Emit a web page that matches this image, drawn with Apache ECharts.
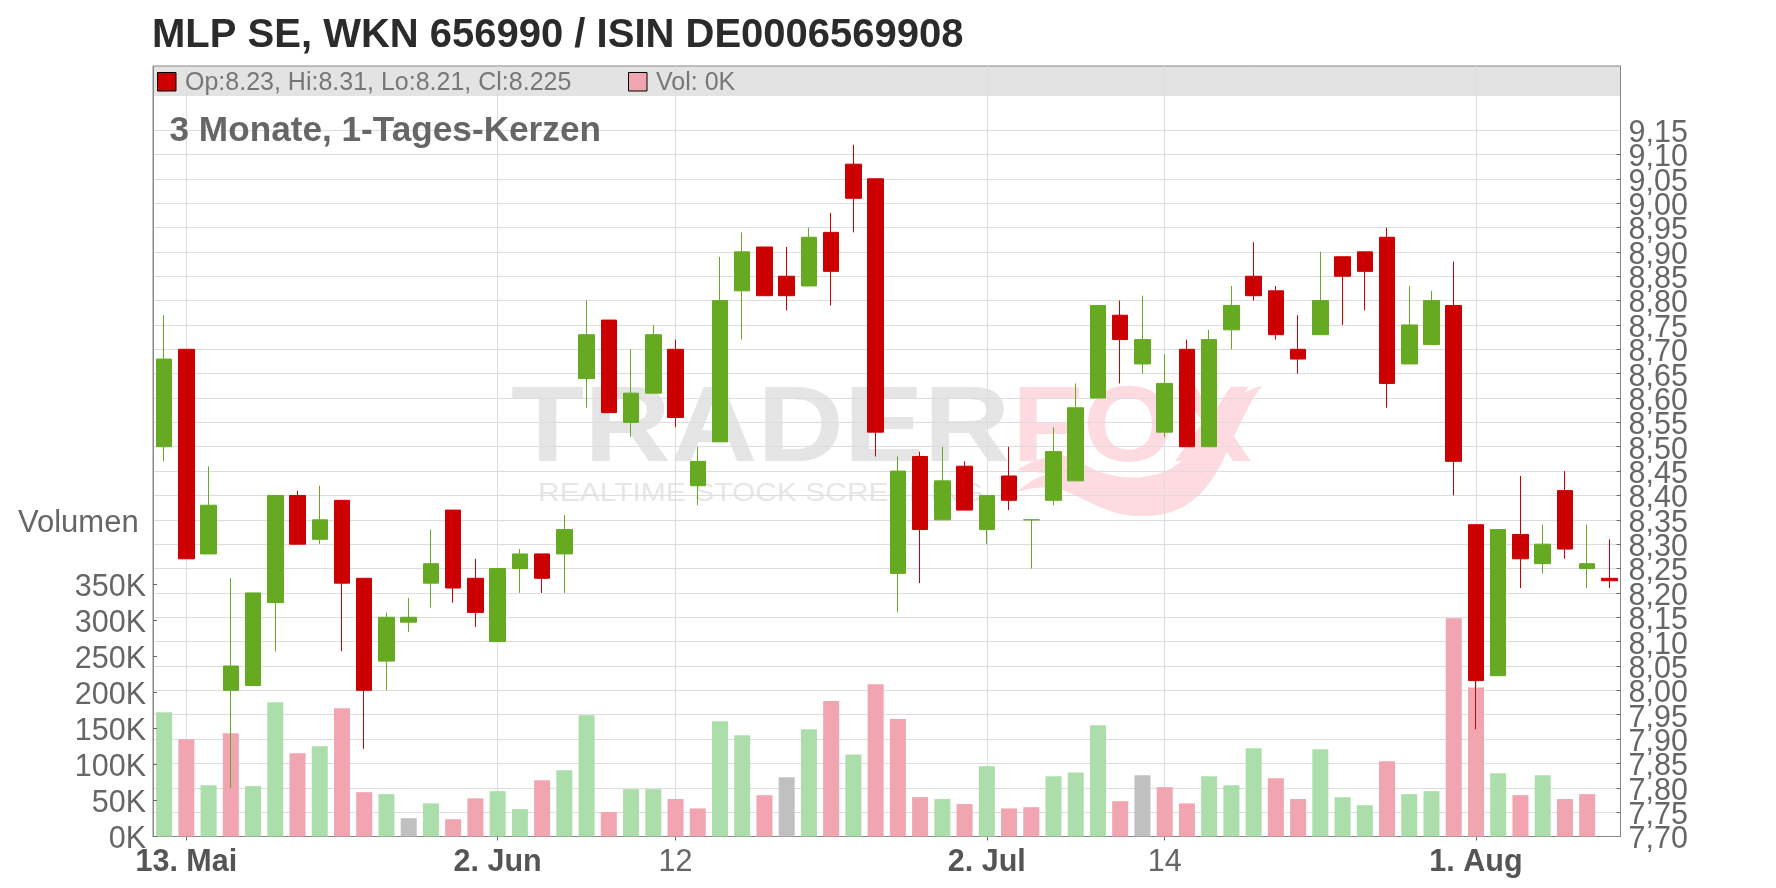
<!DOCTYPE html>
<html><head><meta charset="utf-8">
<style>html,body{margin:0;padding:0;background:#fff}#c{width:1776px;height:888px}</style>
<script src="https://cdn.jsdelivr.net/npm/echarts@6/dist/echarts.min.js"></script>
</head><body><div id="c"></div>
<script>
const categories = ['2025-05-12','2025-05-13','2025-05-14','2025-05-15','2025-05-16','2025-05-19','2025-05-20','2025-05-21','2025-05-22','2025-05-23','2025-05-26','2025-05-27','2025-05-28','2025-05-29','2025-05-30','2025-06-02','2025-06-03','2025-06-04','2025-06-05','2025-06-06','2025-06-09','2025-06-10','2025-06-11','2025-06-12','2025-06-13','2025-06-16','2025-06-17','2025-06-18','2025-06-19','2025-06-20','2025-06-23','2025-06-24','2025-06-25','2025-06-26','2025-06-27','2025-06-30','2025-07-01','2025-07-02','2025-07-03','2025-07-04','2025-07-07','2025-07-08','2025-07-09','2025-07-10','2025-07-11','2025-07-14','2025-07-15','2025-07-16','2025-07-17','2025-07-18','2025-07-21','2025-07-22','2025-07-23','2025-07-24','2025-07-25','2025-07-28','2025-07-29','2025-07-30','2025-07-31','2025-08-01','2025-08-04','2025-08-05','2025-08-06','2025-08-07','2025-08-08','2025-08-11'];
const opens  = [8.50,8.70,8.28,8.00,8.01,8.18,8.40,8.31,8.39,8.23,8.06,8.14,8.22,8.37,8.23,8.10,8.25,8.28,8.28,8.64,8.76,8.55,8.61,8.70,8.42,8.51,8.82,8.91,8.85,8.83,8.94,9.08,9.05,8.24,8.48,8.35,8.46,8.33,8.44,8.35,8.39,8.43,8.60,8.77,8.67,8.53,8.70,8.50,8.74,8.85,8.82,8.70,8.73,8.89,8.90,8.93,8.67,8.71,8.79,8.34,8.03,8.32,8.26,8.41,8.25,8.23];
const closes = [8.68,8.27,8.38,8.05,8.20,8.40,8.30,8.35,8.22,8.00,8.15,8.15,8.26,8.21,8.16,8.25,8.28,8.23,8.33,8.73,8.57,8.61,8.73,8.56,8.47,8.80,8.90,8.81,8.81,8.93,8.86,9.01,8.53,8.45,8.33,8.43,8.37,8.40,8.39,8.35,8.49,8.58,8.79,8.72,8.72,8.63,8.50,8.72,8.79,8.81,8.73,8.68,8.80,8.85,8.86,8.63,8.75,8.80,8.47,8.02,8.33,8.27,8.30,8.29,8.26,8.225];
const lows   = [8.47,8.27,8.28,7.80,8.01,8.08,8.30,8.30,8.08,7.88,8.00,8.12,8.17,8.18,8.13,8.10,8.20,8.20,8.20,8.58,8.57,8.52,8.61,8.54,8.38,8.51,8.72,8.81,8.78,8.83,8.79,8.94,8.48,8.16,8.22,8.35,8.37,8.30,8.37,8.25,8.38,8.43,8.60,8.63,8.65,8.52,8.50,8.50,8.70,8.80,8.72,8.65,8.73,8.75,8.78,8.58,8.67,8.71,8.40,7.92,8.03,8.21,8.24,8.27,8.21,8.21];
const highs  = [8.77,8.70,8.46,8.23,8.20,8.40,8.41,8.42,8.39,8.23,8.16,8.19,8.33,8.37,8.27,8.25,8.29,8.28,8.36,8.80,8.76,8.70,8.75,8.72,8.50,8.89,8.94,8.91,8.91,8.95,8.98,9.12,9.05,8.48,8.49,8.50,8.47,8.40,8.50,8.35,8.54,8.63,8.79,8.80,8.81,8.69,8.72,8.74,8.83,8.92,8.83,8.77,8.90,8.89,8.90,8.95,8.83,8.82,8.88,8.34,8.33,8.44,8.34,8.45,8.34,8.31];
const volumes = [172700,135000,71000,143500,70000,186600,115700,125500,178000,61600,58800,25500,46000,24000,53000,63000,38000,78000,92000,168500,34000,65700,65700,52000,39000,160000,140700,57400,82400,149000,188000,114000,211600,163000,54600,52000,45000,97700,39000,40700,83800,89000,154600,49000,85000,68500,46000,83800,71000,122700,81000,52000,121000,54600,43500,104600,58800,63000,303000,207000,88000,57400,85000,52000,58800,0];
const volumeKinds = ['u','d','u','d','u','u','d','u','d','d','u','n','u','d','d','u','u','d','u','u','d','u','u','d','d','u','u','d','n','u','d','u','d','d','d','u','d','u','d','d','u','u','u','d','n','d','d','u','u','u','d','d','u','u','u','d','u','u','d','d','u','d','u','d','d','d'];
const volumeTicks = [0,50000,100000,150000,200000,250000,300000,350000];
const priceTicks = [7.70,7.75,7.80,7.85,7.90,7.95,8.00,8.05,8.10,8.15,8.20,8.25,8.30,8.35,8.40,8.45,8.50,8.55,8.60,8.65,8.70,8.75,8.80,8.85,8.90,8.95,9.00,9.05,9.10,9.15];
const dateLabels = {'2025-05-13':'{b|13. Mai}','2025-06-02':'{b|2. Jun}','2025-06-12':'12','2025-07-02':'{b|2. Jul}','2025-07-14':'14','2025-08-01':'{b|1. Aug}'};
const dateTicks = Object.keys(dateLabels).map(d => categories.indexOf(d));
const candles = categories.map((_, i) => [opens[i], closes[i], lows[i], highs[i]]);
// first and last repeated: ECharts drops one end label on each side when neighbours overlap
const priceLabelValues = [priceTicks[0], ...priceTicks, priceTicks[priceTicks.length - 1]];

const FONT = '"Liberation Sans", Arial, sans-serif';
const RED = '#cc0000', GREEN = '#66aa22', GREY_TEXT = '#666666';
const VOL = {u:'#abdeaa', d:'#f0a5b0', n:'#c0c0c0'};
const TICK_STYLE = {color:'#666666', width:1};
const GRID_LINE = {show:true, lineStyle:{color:'#dddddd', width:1}};
const LOWERED = {a:{fontFamily:FONT, fontSize:30.5, color:GREY_TEXT, padding:[7,0,0,0]}};

echarts.graphic.registerShape('foxSwoosh', echarts.graphic.extendPath('M1017 470 C1035 458 1058 452 1075 458 C1100 478 1140 485 1172 468 C1200 450 1215 420 1231 403 C1240 395 1250 388 1262 386 C1250 400 1240 425 1230 445 C1215 480 1195 515 1147 516 C1110 518 1090 500 1062 490 C1045 485 1030 488 1017 492 C1030 480 1040 476 1050 474 C1040 472 1028 472 1017 470 Z'));

const chart = echarts.init(document.getElementById('c'), null, {renderer:'canvas'});
const txt = (x, y, text, size, color, weight, extra) => Object.assign({
  type:'text', x, y, z:10, silent:true,
  style:{text, fill:color, font:(weight||'normal')+' '+size+'px '+FONT, textVerticalAlign:'middle', textAlign:'left'}
}, extra||{});
chart.setOption({
  animation:false,
  backgroundColor:'#ffffff',
  title:{text:'MLP SE, WKN 656990 / ISIN DE0006569908', left:152, top:16, padding:0,
    textStyle:{fontFamily:FONT, fontWeight:'bold', fontSize:40, color:'#2b2b2b'}},
  grid:{left:153, right:155.5, top:66, bottom:51.5, show:true, borderColor:'#888888', borderWidth:1, containLabel:false},
  xAxis:{type:'category', data:categories, boundaryGap:true,
    axisLine:{show:true, lineStyle:{color:'#888888', width:1}},
    axisTick:{show:true, customValues:dateTicks, alignWithLabel:true, length:4, lineStyle:TICK_STYLE},
    splitLine:Object.assign({alignWithLabel:true}, GRID_LINE),
    axisLabel:{show:true, customValues:dateTicks, margin:11, fontFamily:FONT, fontSize:30.5, color:GREY_TEXT,
      formatter:(v)=>dateLabels[v]||'',
      rich:{b:{fontFamily:FONT, fontSize:30.5, fontWeight:'bold', color:'#555555'}}}},
  yAxis:[
    {type:'value', min:0, max:1070000, position:'left', z:3,
     axisLine:{show:true, lineStyle:{color:'#888888'}},
     axisTick:{show:true, inside:true, length:4, customValues:volumeTicks, lineStyle:TICK_STYLE},
     splitLine:{show:false},
     axisLabel:{show:true, customValues:volumeTicks, margin:7, rich:LOWERED, fontFamily:FONT, fontSize:30.5, color:GREY_TEXT, formatter:(v)=>'{a|'+Math.round(v/1000)+'K}'}},
    {type:'value', min:7.7, max:9.2815, position:'right',
     axisLine:{show:true, lineStyle:{color:'#888888'}},
     axisTick:{show:true, inside:true, length:4, customValues:priceTicks, lineStyle:TICK_STYLE},
     splitLine:GRID_LINE,
     axisLabel:{show:true, showMinLabel:false, showMaxLabel:false, customValues:priceLabelValues, margin:8, rich:LOWERED, fontFamily:FONT, fontSize:30.5, color:GREY_TEXT, formatter:(v)=>'{a|'+v.toFixed(2).replace('.',',')+'}'}}
  ],
  series:[
    {type:'bar', name:'Volumen', xAxisIndex:0, yAxisIndex:0, barWidth:16, z:2,
     data:volumes.map((v,i)=>({value:v, itemStyle:{color:VOL[volumeKinds[i]]}}))},
    {type:'candlestick', name:'Kurs', xAxisIndex:0, yAxisIndex:1, barWidth:16, z:3, data:candles,
     itemStyle:{color:GREEN, color0:RED, borderColor:GREEN, borderColor0:RED, borderColorDoji:GREEN, borderWidth:1}}
  ],
  graphic:[
    {type:'rect', z:-2, silent:true, shape:{x:153, y:66, width:1467.5, height:30}, style:{fill:'#e3e3e3'}},
    {type:'text', z:-1, silent:true, x:511, y:431.5, scaleX:1.12, style:{text:'TRADER', fill:'#e5e5e5', font:'bold 107px '+FONT, textVerticalAlign:'middle', textAlign:'left'}},
    {type:'text', z:-1, silent:true, x:1012, y:431.5, scaleX:1.09, style:{text:'FOX', fill:'#fddbe0', font:'bold 107px '+FONT, textVerticalAlign:'middle', textAlign:'left'}},
    {type:'foxSwoosh', z:-1, silent:true, style:{fill:'#fddbe0'}},
    {type:'text', z:-1, silent:true, x:538, y:494, scaleX:1.2, style:{text:'REALTIME STOCK SCREENING', fill:'#e6e6e6', font:'normal 25px '+FONT, textVerticalAlign:'middle', textAlign:'left'}},
    {type:'rect', z:10, silent:true, shape:{x:157.5, y:72.5, width:18.5, height:18.5}, style:{fill:RED, stroke:'#000', lineWidth:1}},
    txt(185, 83, 'Op:8.23, Hi:8.31, Lo:8.21, Cl:8.225', 25, '#777777'),
    {type:'rect', z:10, silent:true, shape:{x:628.5, y:72.5, width:18.5, height:18.5}, style:{fill:VOL.d, stroke:'#000', lineWidth:1}},
    txt(656, 83, 'Vol: 0K', 25, '#777777'),
    txt(169.5, 131, '3 Monate, 1-Tages-Kerzen', 35.2, GREY_TEXT, 'bold'),
    txt(18, 523, 'Volumen', 31, GREY_TEXT)
  ]
});
</script></body></html>
